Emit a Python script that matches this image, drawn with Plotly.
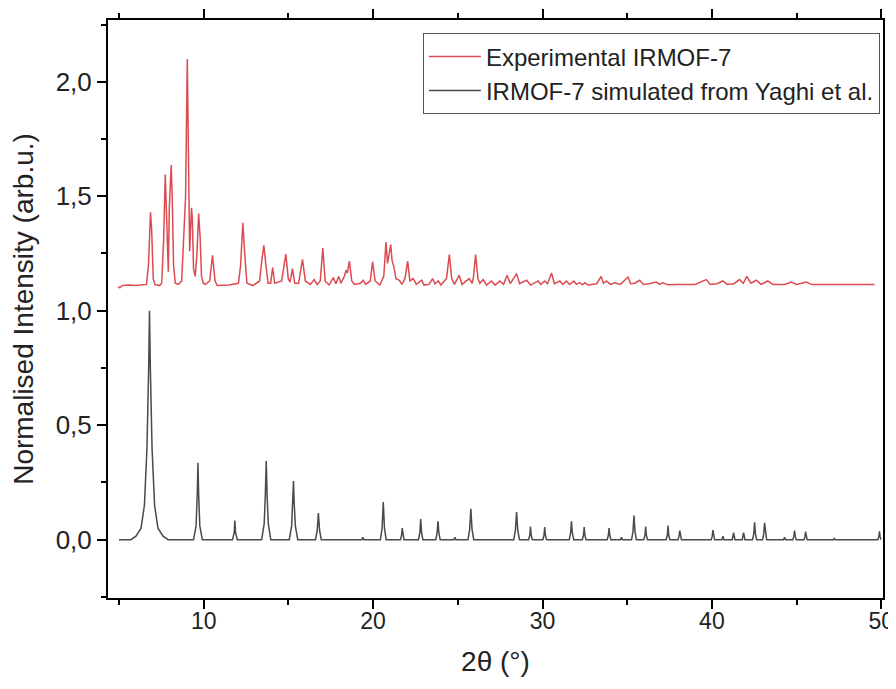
import plotly.graph_objects as go

# ---- Experimental IRMOF-7 (offset pattern), vertices ----
exp_x = [4.95, 5.05, 5.2, 5.6, 6.0, 6.4, 6.62,
         6.74, 6.86, 6.93, 7.02, 7.12, 7.4, 7.52,
         7.63, 7.73, 7.79, 7.86, 7.91,
         7.97, 8.05, 8.08, 8.14, 8.22, 8.32, 8.5, 8.7,
         8.85, 8.93, 9.03, 9.1, 9.17, 9.28, 9.33, 9.4, 9.5, 9.6, 9.70, 9.79, 9.87, 9.97,
         10.1, 10.35, 10.52, 10.67, 10.8, 11.5, 12.05, 12.18, 12.31, 12.42, 12.55, 12.9,
         13.3, 13.43, 13.55, 13.67, 13.8, 13.95, 14.07, 14.19, 14.6, 14.85, 14.99, 15.1,
         15.24, 15.37, 15.6, 15.83, 16.0, 16.3, 16.52, 16.7, 16.88, 17.03, 17.17, 17.4,
         17.65, 17.8, 17.97, 18.1, 18.3, 18.40, 18.48, 18.60, 18.74, 18.9, 19.1, 19.25,
         19.42, 19.55, 19.83, 19.97, 20.12, 20.4, 20.63, 20.76, 20.85, 21.04, 21.12, 21.23,
         21.35, 21.55, 21.7, 21.88, 22.04, 22.17, 22.37, 22.55, 22.87, 23.0, 23.3, 23.51,
         23.65, 23.85, 24.0, 24.33, 24.50, 24.64, 24.8, 25.08, 25.25, 25.67, 25.85, 25.93,
         26.05, 26.19, 26.3, 26.50, 26.7, 26.99, 27.2, 27.48, 27.7, 27.91, 28.1, 28.47,
         28.65, 29.06, 29.3, 29.74, 29.9, 30.13, 30.3, 30.53, 30.7, 31.02, 31.2, 31.41,
         31.6, 31.85, 32.0, 32.2, 32.35, 32.5, 32.7, 33.2, 33.46, 33.6, 33.77, 34.0,
         34.26, 34.6, 35.05, 35.2, 35.45, 35.74, 35.95, 36.3, 36.72, 36.9, 37.11, 37.4,
         38.0, 39.0, 39.67, 39.9, 40.3, 40.65, 40.9, 41.3, 41.63, 41.85, 42.06, 42.3,
         42.62, 42.9, 43.30, 43.6, 44.3, 44.68, 45.0, 45.57, 45.9, 47.0, 48.0, 49.6]
exp_y = [1.105, 1.100, 1.110, 1.112, 1.110, 1.112, 1.115,
         1.20, 1.43, 1.35, 1.14, 1.115, 1.110, 1.12,
         1.30, 1.595, 1.45, 1.20, 1.17,
         1.45, 1.62, 1.636, 1.50, 1.20, 1.12, 1.115, 1.13,
         1.39, 1.50, 2.10, 1.70, 1.26, 1.45, 1.40, 1.18, 1.15, 1.25, 1.425, 1.32, 1.15, 1.12,
         1.115, 1.13, 1.242, 1.13, 1.11, 1.112, 1.12, 1.20, 1.384, 1.25, 1.12, 1.11,
         1.13, 1.22, 1.286, 1.20, 1.12, 1.12, 1.188, 1.12, 1.13, 1.247, 1.14, 1.125,
         1.184, 1.12, 1.12, 1.224, 1.13, 1.115, 1.136, 1.115, 1.13, 1.274, 1.13, 1.112,
         1.145, 1.118, 1.15, 1.12, 1.15, 1.177, 1.165, 1.217, 1.13, 1.115, 1.118, 1.12,
         1.133, 1.115, 1.13, 1.213, 1.13, 1.112, 1.15, 1.30, 1.207, 1.289, 1.22, 1.19,
         1.14, 1.133, 1.115, 1.14, 1.217, 1.13, 1.14, 1.115, 1.133, 1.112, 1.115, 1.14,
         1.118, 1.13, 1.112, 1.14, 1.245, 1.14, 1.115, 1.155, 1.115, 1.14, 1.12, 1.15,
         1.245, 1.14, 1.12, 1.136, 1.112, 1.13, 1.112, 1.13, 1.115, 1.155, 1.118, 1.162,
         1.118, 1.133, 1.112, 1.13, 1.115, 1.13, 1.118, 1.165, 1.118, 1.13, 1.115, 1.13,
         1.115, 1.13, 1.115, 1.123, 1.113, 1.122, 1.112, 1.118, 1.15, 1.12, 1.13, 1.115,
         1.122, 1.115, 1.147, 1.118, 1.12, 1.133, 1.115, 1.118, 1.125, 1.115, 1.122, 1.113,
         1.115, 1.115, 1.136, 1.115, 1.118, 1.13, 1.115, 1.118, 1.136, 1.12, 1.15, 1.12,
         1.133, 1.115, 1.13, 1.115, 1.115, 1.125, 1.115, 1.125, 1.114, 1.115, 1.114, 1.115]

# ---- IRMOF-7 simulated from Yaghi et al., vertices ----
sim_x = [5.0, 5.7, 6.0, 6.3, 6.5, 6.65, 6.75, 6.8, 6.85, 6.95, 7.1, 7.3, 7.6, 7.9,
         9.4, 9.55, 9.62, 9.66, 9.7, 9.77, 9.92,
         11.7, 11.8, 11.84, 11.88, 11.98,
         13.42, 13.57, 13.64, 13.69, 13.74, 13.81, 13.96,
         15.05, 15.19, 15.26, 15.30, 15.34, 15.41, 15.55,
         16.6, 16.7, 16.77, 16.84, 16.94,
         19.33, 19.39, 19.45,
         20.43, 20.53, 20.60, 20.67, 20.77,
         21.62, 21.68, 21.72, 21.76, 21.82,
         22.68, 22.76, 22.81, 22.86, 22.94,
         23.70, 23.78, 23.83, 23.88, 23.96,
         24.77, 24.83, 24.89,
         25.60, 25.70, 25.77, 25.84, 25.94,
         28.30, 28.40, 28.47, 28.54, 28.64,
         29.18, 29.25, 29.29, 29.33, 29.40,
         30.02, 30.09, 30.13, 30.17, 30.24,
         31.58, 31.66, 31.71, 31.76, 31.84,
         32.35, 32.42, 32.46, 32.50, 32.57,
         33.82, 33.89, 33.93, 33.97, 34.04,
         34.60, 34.66, 34.72,
         35.26, 35.34, 35.40, 35.46, 35.54,
         35.98, 36.05, 36.09, 36.13, 36.20,
         37.30, 37.37, 37.41, 37.45, 37.52,
         38.00, 38.06, 38.10, 38.14, 38.20,
         39.96, 40.02, 40.06, 40.10, 40.16,
         40.59, 40.65, 40.71,
         41.20, 41.28, 41.36,
         41.79, 41.87, 41.95,
         42.40, 42.47, 42.52, 42.57, 42.64,
         42.99, 43.06, 43.11, 43.16, 43.23,
         44.23, 44.29, 44.35,
         44.78, 44.84, 44.88, 44.92, 44.98,
         45.44, 45.49, 45.53, 45.57, 45.62,
         47.18, 47.23, 47.28,
         49.79, 49.85, 49.89, 49.93, 49.98]
sim_y = [0.0, 0.0, 0.015, 0.05, 0.15, 0.40, 0.75, 1.0, 0.75, 0.40, 0.15, 0.05, 0.015, 0.0,
         0.0, 0.06, 0.20, 0.336, 0.20, 0.06, 0.0,
         0.0, 0.03, 0.083, 0.03, 0.0,
         0.0, 0.07, 0.20, 0.343, 0.20, 0.07, 0.0,
         0.0, 0.06, 0.16, 0.256, 0.16, 0.06, 0.0,
         0.0, 0.04, 0.116, 0.04, 0.0,
         0.0, 0.01, 0.0,
         0.0, 0.05, 0.164, 0.05, 0.0,
         0.0, 0.02, 0.05, 0.02, 0.0,
         0.0, 0.03, 0.09, 0.03, 0.0,
         0.0, 0.03, 0.08, 0.03, 0.0,
         0.0, 0.01, 0.0,
         0.0, 0.045, 0.135, 0.045, 0.0,
         0.0, 0.04, 0.12, 0.04, 0.0,
         0.0, 0.02, 0.057, 0.02, 0.0,
         0.0, 0.02, 0.055, 0.02, 0.0,
         0.0, 0.03, 0.08, 0.03, 0.0,
         0.0, 0.02, 0.055, 0.02, 0.0,
         0.0, 0.02, 0.05, 0.02, 0.0,
         0.0, 0.01, 0.0,
         0.0, 0.035, 0.105, 0.035, 0.0,
         0.0, 0.02, 0.057, 0.02, 0.0,
         0.0, 0.02, 0.061, 0.02, 0.0,
         0.0, 0.015, 0.04, 0.015, 0.0,
         0.0, 0.015, 0.042, 0.015, 0.0,
         0.0, 0.015, 0.0,
         0.0, 0.03, 0.0,
         0.0, 0.03, 0.0,
         0.0, 0.025, 0.076, 0.025, 0.0,
         0.0, 0.025, 0.073, 0.025, 0.0,
         0.0, 0.01, 0.0,
         0.0, 0.015, 0.04, 0.015, 0.0,
         0.0, 0.012, 0.035, 0.012, 0.0,
         0.0, 0.005, 0.0,
         0.0, 0.012, 0.036, 0.012, 0.0]

x_tick_vals = [10, 20, 30, 40, 50]
y_tick_vals = [0.0, 0.5, 1.0, 1.5, 2.0]

FONT = "Liberation Sans, Arial, sans-serif"

fig = go.Figure()
fig.add_trace(go.Scatter(x=exp_x, y=exp_y, mode="lines", name="Experimental IRMOF-7",
                         line=dict(color="#dc4b50", width=1.5)))
fig.add_trace(go.Scatter(x=sim_x, y=sim_y, mode="lines",
                         name="IRMOF-7 simulated from Yaghi et al.",
                         line=dict(color="#4a4a4a", width=1.5)))

# page body has an 8 px margin, so the figure is drawn 8 px smaller
fig.update_layout(
    width=888, height=681,
    margin=dict(l=100, r=13, t=12, b=91),
    paper_bgcolor="white", plot_bgcolor="white",
    separators=",.",
    font=dict(family=FONT, size=24, color="#222"),
    showlegend=True,
    legend=dict(x=0.996, y=0.977, xanchor="right", yanchor="top",
                bgcolor="white", bordercolor="#555", borderwidth=1,
                font=dict(size=24, family=FONT, color="#222"),
                tracegroupgap=0, itemwidth=52),
)
fig.update_xaxes(
    range=[4.35, 50.1], tickvals=x_tick_vals, ticktext=[str(v) for v in x_tick_vals],
    ticks="outside", ticklen=9, tickwidth=2, tickcolor="black",
    minor=dict(dtick=5, tick0=0, ticks="outside", ticklen=5, tickwidth=2, tickcolor="black"),
    showline=True, linewidth=2, linecolor="black", mirror="ticks",
    showgrid=False, zeroline=False, automargin=False,
    tickfont=dict(size=23, family=FONT, color="#222"), ticklabelstandoff=-8,
    title=dict(text="2θ (°)", font=dict(size=28, family=FONT, color="#222"), standoff=19),
)
fig.update_yaxes(
    range=[-0.255, 2.27], tickvals=y_tick_vals, tickformat=".1f",
    ticks="outside", ticklen=9, tickwidth=2, tickcolor="black",
    minor=dict(dtick=0.25, tick0=0, ticks="outside", ticklen=5, tickwidth=2, tickcolor="black"),
    showline=True, linewidth=2, linecolor="black", mirror=True,
    showgrid=False, zeroline=False, automargin=False,
    tickfont=dict(size=26, family=FONT, color="#222"),
    title=dict(text="Normalised Intensity (arb.u.)", font=dict(size=28, family=FONT, color="#222"), standoff=14),
)

fig.write_html("out.html")
